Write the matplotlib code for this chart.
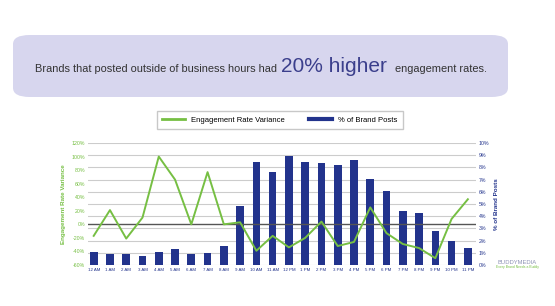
"""Brand posting hours vs engagement rate variance (BuddyMedia style)."""
import matplotlib
matplotlib.use("Agg")
import matplotlib.pyplot as plt
from matplotlib.patches import FancyBboxPatch
from matplotlib.lines import Line2D

plt.rcParams["font.family"] = ["Liberation Sans", "DejaVu Sans"]

hours = ["12 AM", "1 AM", "2 AM", "3 AM", "4 AM", "5 AM", "6 AM", "7 AM",
         "8 AM", "9 AM", "10 AM", "11 AM", "12 PM", "1 PM", "2 PM", "3 PM",
         "4 PM", "5 PM", "6 PM", "7 PM", "8 PM", "9 PM", "10 PM", "11 PM"]
# engagement rate variance, %
variance = [-17, 21, -21, 10, 100, 66, 0, 77,
            0, 3, -39, -17, -34, -20, 4, -32,
            -26, 25, -13, -29, -35, -50, 8, 37]
# % of brand posts
posts = [1.1, 0.93, 0.93, 0.74, 1.07, 1.34, 0.93, 0.95,
         1.59, 4.87, 8.44, 7.64, 8.96, 8.44, 8.33, 8.19,
         8.6, 7.09, 6.08, 4.44, 4.3, 2.77, 2.0, 1.37]
left_ticks = list(range(-60, 121, 20))
right_ticks = list(range(0, 11))

GREEN = "#76bf43"
NAVY = "#22338c"

fig = plt.figure(figsize=(5.55, 3.06), dpi=100)

# banner
box = FancyBboxPatch((13 / 555, 1 - 97 / 306), 495 / 555, 62 / 306,
                     boxstyle="round,pad=0,rounding_size=0.03",
                     transform=fig.transFigure, fc="#d7d6ee", ec="none")
fig.patches.append(box)
fig.text(35 / 555, 1 - 72 / 306, "Brands that posted outside of business hours had",
         fontsize=7.9, color="#333333", va="baseline", ha="left")
fig.text(281 / 555, 1 - 72 / 306, "20% higher", fontsize=15, color="#3b3f8c",
         va="baseline", ha="left")
fig.text(395 / 555, 1 - 72 / 306, "engagement rates.", fontsize=7.9, color="#333333",
         va="baseline", ha="left")

ax = fig.add_axes([88 / 555, 41 / 306, 388 / 555, 122 / 306])
ax2 = ax.twinx()
ax.set_zorder(ax2.get_zorder() + 1)
ax.patch.set_visible(False)

x = range(len(hours))
ax2.bar(x, posts, width=0.47, color=NAVY, zorder=2)
ax2.set_ylim(0, 10)
ax2.set_yticks(right_ticks)
ax2.set_yticklabels([f"{t}%" for t in right_ticks], fontsize=3.8, color="#22338c")
ax2.grid(axis="y", color="#cccccc", lw=0.8, zorder=0)
ax2.set_axisbelow(True)
ax2.set_ylabel("% of Brand Posts", fontsize=4.5, color=NAVY, fontweight="bold",
               labelpad=3)

ax.axhline(0, color="#555555", lw=1.0, zorder=3)
ax.plot(x, variance, color=GREEN, lw=1.4, zorder=4)
ax.set_ylim(-60, 120)
ax.set_yticks(left_ticks)
ax.set_yticklabels([f"{t}%" for t in left_ticks], fontsize=3.8, color=GREEN)
ax.set_ylabel("Engagement Rate Variance", fontsize=4.5, color=GREEN,
              fontweight="bold", labelpad=4)
ax.set_xlim(-0.35, 23.5)
ax.set_xticks(list(x))
ax.set_xticklabels(hours, fontsize=3.2, color="#22338c")

for a in (ax, ax2):
    for s in a.spines.values():
        s.set_visible(False)
    a.tick_params(length=0, pad=2)

handles = [Line2D([], [], color=GREEN, lw=2),
           Line2D([], [], color=NAVY, lw=3)]
fig.legend(handles, ["Engagement Rate Variance", "% of Brand Posts"],
           loc="center", bbox_to_anchor=(280 / 555, 1 - 120 / 306), ncol=2,
           fontsize=5.5, frameon=True, fancybox=False, edgecolor="#bbbbbb",
           handlelength=3, columnspacing=3.2, borderpad=0.7)

fig.text(517 / 555, 1 - 262 / 306, "BUDDYMEDIA", fontsize=4.2, color="#8d93b5",
         ha="center", va="center")
fig.text(517 / 555, 1 - 267 / 306, "Every Brand Needs a Buddy", fontsize=2.4,
         color=GREEN, ha="center", va="center")

fig.savefig("out.png", dpi=100)
